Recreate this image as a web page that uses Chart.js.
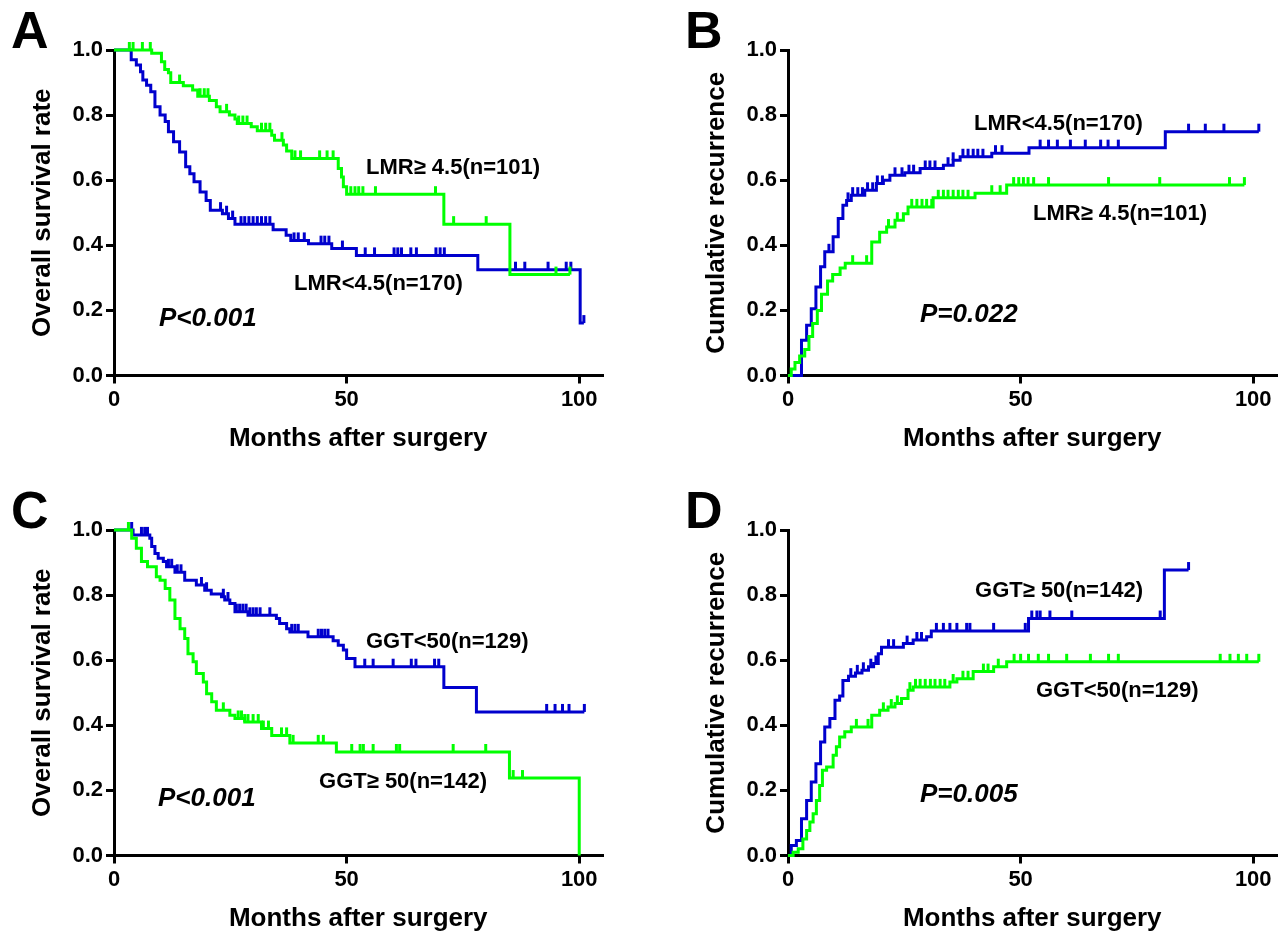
<!DOCTYPE html>
<html>
<head>
<meta charset="utf-8">
<script src="https://cdn.jsdelivr.net/npm/chart.js@4.4.1/dist/chart.umd.min.js"></script>
<style>
  html, body { margin: 0; padding: 0; background: #fff; overflow: hidden; }
  #wrap { position: relative; width: 1284px; height: 932px; overflow: hidden; }
  .panel { position: absolute; }
</style>
</head>
<body>
<div id="wrap">
  <div class="panel" style="left:0;top:0"><canvas id="cA" width="640" height="470"></canvas></div>
  <div class="panel" style="left:674px;top:0"><canvas id="cB" width="640" height="470"></canvas></div>
  <div class="panel" style="left:0;top:480px"><canvas id="cC" width="640" height="470"></canvas></div>
  <div class="panel" style="left:674px;top:480px"><canvas id="cD" width="640" height="470"></canvas></div>
</div>
<script>
// --- Ejes ---
const xTicks = [0, 50, 100];
const yTicks = [0, 0.2, 0.4, 0.6, 0.8, 1.0];

// --- A: supervivencia global por LMR ---
const aHighT = [0, 8.1, 10.2, 10.9, 11.7, 12.2, 14.9, 16.9, 18.0, 20.5, 22.0, 22.8, 24.8, 26.0, 26.5, 29.5, 30.8, 33.9, 34.5, 36.4, 37.1, 38.2, 48.2, 48.9, 49.3, 50.0, 70.9, 85.1, 98.0];
const aHighV = [1.0, 0.99, 0.964, 0.94, 0.93, 0.90, 0.89, 0.877, 0.858, 0.845, 0.826, 0.81, 0.80, 0.788, 0.774, 0.764, 0.752, 0.738, 0.723, 0.708, 0.69, 0.667, 0.636, 0.61, 0.58, 0.557, 0.465, 0.31, 0.31];
const aHighC = [3.3, 4.1, 6.1, 7.8, 14.1, 18.5, 19.4, 20.2, 24.2, 26.8, 27.7, 28.6, 31.7, 32.6, 33.5, 36.1, 38.9, 40.1, 44.2, 45.8, 47.1, 50.9, 51.8, 52.6, 53.5, 56.2, 69.1, 73.0, 80.0, 95.0, 98.0];
const aLowT = [0, 3.7, 4.8, 5.7, 6.2, 7.0, 7.9, 8.8, 9.9, 11.0, 11.7, 12.8, 14.1, 15.4, 16.3, 17.2, 18.5, 19.8, 20.7, 23.3, 24.6, 26.0, 34.2, 37.0, 38.0, 41.8, 46.8, 52.1, 78.2, 100.2, 101.0];
const aLowV = [1.0, 0.97, 0.954, 0.933, 0.908, 0.892, 0.872, 0.826, 0.80, 0.78, 0.749, 0.718, 0.687, 0.641, 0.62, 0.595, 0.564, 0.538, 0.508, 0.497, 0.482, 0.465, 0.448, 0.431, 0.415, 0.405, 0.39, 0.369, 0.325, 0.161, 0.161];
const aLowC = [22.9, 24.2, 25.5, 27.3, 28.1, 29.0, 29.9, 30.8, 31.7, 32.6, 33.5, 38.7, 39.6, 40.9, 44.5, 45.3, 46.2, 49.1, 54.0, 56.0, 60.2, 61.0, 61.8, 63.8, 65.0, 69.2, 70.1, 71.0, 86.3, 88.3, 93.3, 97.2, 98.2, 101.0];

// --- B: recurrencia acumulada por LMR ---
const bLowT = [0, 2.9, 4.0, 5.0, 6.0, 7.0, 7.9, 9.7, 10.8, 11.8, 12.6, 13.6, 16.5, 19.0, 20.5, 21.9, 25.1, 28.4, 33.4, 35.5, 37.0, 43.8, 51.8, 81.1, 101.2];
const bLowV = [0, 0.108, 0.154, 0.205, 0.272, 0.334, 0.38, 0.426, 0.482, 0.523, 0.538, 0.554, 0.569, 0.59, 0.60, 0.615, 0.623, 0.636, 0.646, 0.661, 0.672, 0.683, 0.70, 0.749, 0.749];
const bLowC = [8.8, 12.9, 13.9, 15.0, 16.0, 17.1, 18.2, 19.2, 20.3, 23.0, 24.5, 26.0, 27.0, 29.5, 30.5, 31.6, 34.4, 35.5, 37.6, 38.7, 39.8, 40.8, 41.9, 44.6, 46.0, 54.2, 56.0, 57.9, 60.7, 63.9, 67.2, 68.8, 71.0, 86.1, 89.7, 93.7, 101.2];
const bHighT = [0, 0.7, 1.5, 2.5, 3.6, 4.5, 5.3, 6.3, 7.2, 8.5, 9.6, 11.2, 12.3, 18.0, 19.7, 21.2, 23.0, 24.8, 25.8, 31.2, 40.2, 47.0, 98.1];
const bHighV = [0, 0.02, 0.04, 0.06, 0.08, 0.12, 0.16, 0.20, 0.25, 0.29, 0.31, 0.33, 0.345, 0.41, 0.44, 0.456, 0.477, 0.497, 0.518, 0.546, 0.56, 0.585, 0.585];
const bHighC = [13.9, 16.9, 21.6, 23.5, 26.6, 27.7, 28.8, 29.8, 30.9, 32.3, 33.4, 34.4, 35.5, 36.6, 37.6, 38.7, 43.8, 45.6, 48.5, 49.6, 50.6, 51.6, 52.8, 56.0, 68.9, 79.9, 94.9, 98.1];

// --- C: supervivencia global por GGT ---
const cLowT = [0, 4.1, 7.7, 8.1, 8.8, 9.5, 10.6, 11.3, 13.1, 15.2, 17.7, 19.5, 20.9, 23.1, 23.8, 24.9, 26.0, 28.8, 34.9, 35.6, 37.1, 37.8, 41.7, 47.1, 48.2, 49.3, 50.0, 51.8, 70.9, 77.9, 101.1];
const cLowV = [1, 0.985, 0.975, 0.949, 0.928, 0.913, 0.903, 0.887, 0.87, 0.846, 0.831, 0.815, 0.803, 0.795, 0.785, 0.774, 0.749, 0.738, 0.728, 0.713, 0.697, 0.687, 0.672, 0.66, 0.646, 0.631, 0.605, 0.58, 0.516, 0.441, 0.441];
const cLowC = [3.8, 5.9, 6.6, 7.2, 11.7, 12.4, 13.6, 14.4, 18.8, 19.9, 23.5, 24.5, 26.3, 27.0, 27.7, 28.4, 29.2, 29.9, 30.6, 31.4, 33.5, 38.2, 38.9, 39.6, 43.9, 44.6, 45.3, 46.0, 53.9, 55.7, 60.0, 63.9, 64.9, 68.9, 69.8, 93.0, 94.8, 96.4, 97.8, 101.1];
const cHighT = [0, 3.8, 4.8, 5.9, 7.2, 9.1, 9.9, 11.0, 12.0, 13.1, 14.2, 15.2, 15.9, 17.0, 17.7, 19.2, 19.9, 21.0, 22.0, 24.9, 26.0, 28.1, 31.7, 33.9, 37.8, 47.8, 85.0, 100.0];
const cHighV = [1, 0.975, 0.944, 0.903, 0.887, 0.856, 0.846, 0.82, 0.785, 0.728, 0.697, 0.667, 0.62, 0.595, 0.559, 0.533, 0.497, 0.472, 0.446, 0.431, 0.421, 0.41, 0.39, 0.369, 0.346, 0.318, 0.238, 0];
const cHighC = [3.1, 23.5, 26.7, 27.4, 28.1, 28.8, 29.9, 31.0, 32.1, 33.2, 36.0, 37.1, 38.5, 43.9, 45.0, 51.1, 52.9, 53.6, 55.7, 60.7, 61.4, 72.9, 79.9, 85.8, 87.8];

// --- D: recurrencia acumulada por GGT ---
const dHighT = [0, 0.7, 1.8, 2.9, 4.0, 5.0, 6.0, 7.0, 7.9, 9.0, 10.1, 11.1, 11.8, 13.0, 14.5, 15.9, 17.3, 18.4, 19.4, 20.1, 24.8, 26.9, 29.8, 30.8, 51.7, 80.9, 86.1];
const dHighV = [0, 0.031, 0.046, 0.113, 0.169, 0.226, 0.282, 0.349, 0.395, 0.421, 0.477, 0.49, 0.538, 0.551, 0.561, 0.569, 0.58, 0.59, 0.62, 0.64, 0.651, 0.662, 0.672, 0.69, 0.728, 0.877, 0.877];
const dHighC = [13.5, 14.9, 16.2, 17.8, 18.9, 21.6, 22.7, 25.6, 27.7, 28.7, 31.9, 33.4, 34.8, 36.3, 38.4, 39.1, 44.2, 51.0, 52.4, 53.5, 54.2, 56.3, 61.0, 80.0, 86.1];
const dLowT = [0, 1.1, 2.2, 3.2, 4.0, 4.7, 5.4, 6.1, 6.8, 7.4, 8.3, 9.7, 10.4, 11.1, 12.2, 13.6, 18.0, 19.7, 21.5, 23.0, 24.4, 25.8, 26.9, 34.8, 36.3, 39.8, 44.2, 47.0, 101.2];
const dLowV = [0, 0.01, 0.021, 0.051, 0.077, 0.103, 0.128, 0.169, 0.215, 0.262, 0.272, 0.308, 0.334, 0.364, 0.38, 0.395, 0.431, 0.446, 0.456, 0.467, 0.482, 0.508, 0.518, 0.533, 0.543, 0.565, 0.58, 0.595, 0.595];
const dLowC = [14.7, 17.2, 20.5, 22.2, 23.5, 26.2, 27.4, 28.4, 29.5, 30.6, 31.6, 32.7, 33.7, 35.5, 37.6, 38.7, 42.0, 43.0, 45.2, 48.6, 50.0, 51.7, 53.8, 56.0, 59.9, 65.0, 68.9, 71.0, 92.9, 95.0, 96.8, 98.6, 101.2];

const GREEN = '#00ff00';
const BLUE = '#0000cd';
const FONT = "'Liberation Sans', Arial, sans-serif";

// valor de la curva escalonada en el tiempo t (para las marcas de censura)
function stepAt(ts, vs, t) {
    let v = vs[0];
    for (let i = 0; i < ts.length; i++) {
        if (ts[i] <= t) v = vs[i];
    }
    return v;
}

function curve(ts, vs) {
    return ts.map((t, i) => ({ x: t, y: vs[i] }));
}

function marks(ts, vs, cs) {
    return cs.map(c => ({ x: c, y: stepAt(ts, vs, c) }));
}

// textos sobre el panel (letra, etiquetas de grupo, valor P)
function makeAnnotator(info) {
    return {
        id: 'annotate',
        afterDraw(chart) {
            const ctx = chart.ctx;
            ctx.save();
            ctx.fillStyle = '#000';
            ctx.textBaseline = 'alphabetic';
            ctx.textAlign = 'left';
            ctx.font = 'bold 52px ' + FONT;
            ctx.fillText(info.letter, 11, 48);
            ctx.font = 'bold 22px ' + FONT;
            info.labels.forEach(l => {
                ctx.textAlign = l.align || 'left';
                ctx.fillText(l.text, l.x, l.y);
            });
            ctx.textAlign = 'left';
            ctx.font = 'italic bold 26px ' + FONT;
            ctx.fillText(info.p, info.px, info.py);
            ctx.restore();
        }
    };
}

function axisGrid() {
    return { display: true, drawOnChartArea: false, drawTicks: true, tickLength: 8, color: '#000', lineWidth: 3 };
}

function makePanel(id, info) {
    const datasets = [];
    info.series.forEach(s => {
        datasets.push({
            data: curve(s.t, s.v),
            borderColor: s.color,
            borderWidth: 3,
            stepped: 'before',
            pointRadius: 0,
            fill: false,
            clip: false
        });
        // marcas de censura: trazo vertical hacia arriba
        datasets.push({
            data: marks(s.t, s.v, s.c),
            showLine: false,
            pointStyle: 'dash',
            pointRotation: -90,
            pointRadius: 8,
            pointBorderWidth: 3,
            pointBorderColor: s.color,
            pointBackgroundColor: s.color,
            clip: false
        });
    });

    new Chart(document.getElementById(id), {
        type: 'line',
        data: { datasets },
        options: {
            responsive: false,
            animation: false,
            events: [],
            layout: { padding: { left: 0, top: 50, right: 37.5, bottom: 0 } },
            plugins: { legend: { display: false }, tooltip: { enabled: false } },
            scales: {
                x: {
                    type: 'linear',
                    min: 0,
                    max: 105,
                    afterFit: s => { s.height = 94.5; },
                    afterBuildTicks: s => { s.ticks = xTicks.map(v => ({ value: v })); },
                    grid: axisGrid(),
                    border: { display: true, color: '#000', width: 3 },
                    ticks: {
                        color: '#000',
                        padding: 3,
                        maxRotation: 0,
                        font: { family: FONT, size: 22, weight: 'bold' },
                        callback: v => String(v)
                    },
                    title: {
                        display: true,
                        text: 'Months after surgery',
                        color: '#000',
                        font: { family: FONT, size: 26, weight: 'bold' },
                        padding: { top: 0, bottom: 16 }
                    }
                },
                y: {
                    type: 'linear',
                    min: 0,
                    max: 1,
                    afterFit: s => { s.width = 114; },
                    afterBuildTicks: s => { s.ticks = yTicks.map(v => ({ value: v })); },
                    grid: axisGrid(),
                    border: { display: true, color: '#000', width: 3 },
                    ticks: {
                        color: '#000',
                        padding: 3,
                        font: { family: FONT, size: 22, weight: 'bold' },
                        callback: v => v.toFixed(1)
                    },
                    title: {
                        display: true,
                        text: info.yTitle,
                        color: '#000',
                        font: { family: FONT, size: 26, weight: 'bold' },
                        padding: { top: 27, bottom: 0 }
                    }
                }
            }
        },
        plugins: [makeAnnotator(info)]
    });
}

makePanel('cA', {
    letter: 'A',
    yTitle: 'Overall survival rate',
    series: [
        { t: aHighT, v: aHighV, c: aHighC, color: GREEN },
        { t: aLowT, v: aLowV, c: aLowC, color: BLUE }
    ],
    labels: [
        { text: 'LMR\u2265 4.5(n=101)', x: 366, y: 174 },
        { text: 'LMR<4.5(n=170)', x: 294, y: 290 }
    ],
    p: 'P<0.001', px: 159, py: 326
});

makePanel('cB', {
    letter: 'B',
    yTitle: 'Cumulative recurrence',
    series: [
        { t: bHighT, v: bHighV, c: bHighC, color: GREEN },
        { t: bLowT, v: bLowV, c: bLowC, color: BLUE }
    ],
    labels: [
        { text: 'LMR<4.5(n=170)', x: 300, y: 130 },
        { text: 'LMR\u2265 4.5(n=101)', x: 359, y: 220 }
    ],
    p: 'P=0.022', px: 246, py: 322
});

makePanel('cC', {
    letter: 'C',
    yTitle: 'Overall survival rate',
    series: [
        { t: cHighT, v: cHighV, c: cHighC, color: GREEN },
        { t: cLowT, v: cLowV, c: cLowC, color: BLUE }
    ],
    labels: [
        { text: 'GGT<50(n=129)', x: 366, y: 168 },
        { text: 'GGT\u2265 50(n=142)', x: 487, y: 308, align: 'right' }
    ],
    p: 'P<0.001', px: 158, py: 326
});

makePanel('cD', {
    letter: 'D',
    yTitle: 'Cumulative recurrence',
    series: [
        { t: dLowT, v: dLowV, c: dLowC, color: GREEN },
        { t: dHighT, v: dHighV, c: dHighC, color: BLUE }
    ],
    labels: [
        { text: 'GGT\u2265 50(n=142)', x: 469, y: 117, align: 'right' },
        { text: 'GGT<50(n=129)', x: 362, y: 217 }
    ],
    p: 'P=0.005', px: 246, py: 322
});
</script>
</body>
</html>
